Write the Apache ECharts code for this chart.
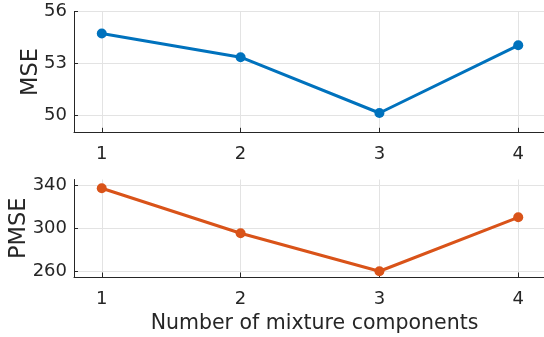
<!DOCTYPE html>
<html>
<head>
<meta charset="utf-8">
<script src="https://cdn.jsdelivr.net/npm/echarts@6/dist/echarts.min.js"></script>
<style>html,body{margin:0;padding:0;background:#fff}#c{width:544px;height:337px}</style>
</head>
<body>
<div id="c"></div>
<script>
var components = [1, 2, 3, 4];
var mse = [54.73, 53.36, 50.12, 54.05];
var pmse = [336.9, 295.4, 260.3, 310.1];
var xTicks = [1, 2, 3, 4];
var mseTicks = [50, 53, 56];
var pmseTicks = [260, 300, 340];

var txt = '#262626';
var font = 'DejaVu Sans';
function pairs(xs, ys) { return xs.map(function (x, i) { return [x, ys[i]]; }); }

function xAxis(idx, withName) {
  var a = {
    type: 'value', gridIndex: idx, min: 0.8, max: 4.2,
    axisLine: { show: true, onZero: false, lineStyle: { color: txt, width: 1 } },
    axisTick: { show: true, inside: true, length: 4.5, customValues: xTicks, lineStyle: { color: txt } },
    axisLabel: { customValues: xTicks, color: txt, fontFamily: font, fontSize: 18, margin: 13 },
    splitLine: { show: true, lineStyle: { color: '#e3e3e3', width: 1 } }
  };
  if (withName) {
    a.name = 'Number of mixture components';
    a.nameLocation = 'middle';
    a.nameGap = 36;
    a.nameMoveOverlap = false;
    a.nameTextStyle = { color: txt, fontFamily: font, fontSize: 20.5, padding: [0, 0, 0, 9] };
  }
  return a;
}
function yAxis(idx, name, min, max, ticks, gap) {
  return {
    type: 'value', gridIndex: idx, min: min, max: max,
    name: name, nameLocation: 'middle', nameGap: gap, nameRotate: 90, nameMoveOverlap: false,
    nameTextStyle: { color: txt, fontFamily: font, fontSize: 22.5 },
    axisLine: { show: true, onZero: false, lineStyle: { color: txt, width: 1 } },
    axisTick: { show: true, inside: true, length: 4, customValues: ticks, lineStyle: { color: txt } },
    axisLabel: { customValues: ticks, color: txt, fontFamily: font, fontSize: 18, margin: 7 },
    splitLine: { show: true, lineStyle: { color: '#e3e3e3', width: 1 } }
  };
}

var chart = echarts.init(document.getElementById('c'), null, { renderer: 'canvas' });
chart.setOption({
  animation: false,
  backgroundColor: '#fff',
  grid: [
    { left: 74, top: 11.7, width: 472, height: 120.6, containLabel: false, outerBoundsMode: 'none' },
    { left: 74, top: 179.5, width: 472, height: 97.5, containLabel: false, outerBoundsMode: 'none' }
  ],
  xAxis: [xAxis(0, false), xAxis(1, true)],
  yAxis: [yAxis(0, 'MSE', 49, 56, mseTicks, 31), yAxis(1, 'PMSE', 255, 345, pmseTicks, 43)],
  series: [
    { type: 'line', xAxisIndex: 0, yAxisIndex: 0, data: pairs(components, mse),
      symbol: 'circle', symbolSize: 10, color: '#0072BD',
      lineStyle: { width: 3, color: '#0072BD' }, itemStyle: { color: '#0072BD' } },
    { type: 'line', xAxisIndex: 1, yAxisIndex: 1, data: pairs(components, pmse),
      symbol: 'circle', symbolSize: 10, color: '#D95319',
      lineStyle: { width: 3, color: '#D95319' }, itemStyle: { color: '#D95319' } }
  ]
});
</script>
</body>
</html>
